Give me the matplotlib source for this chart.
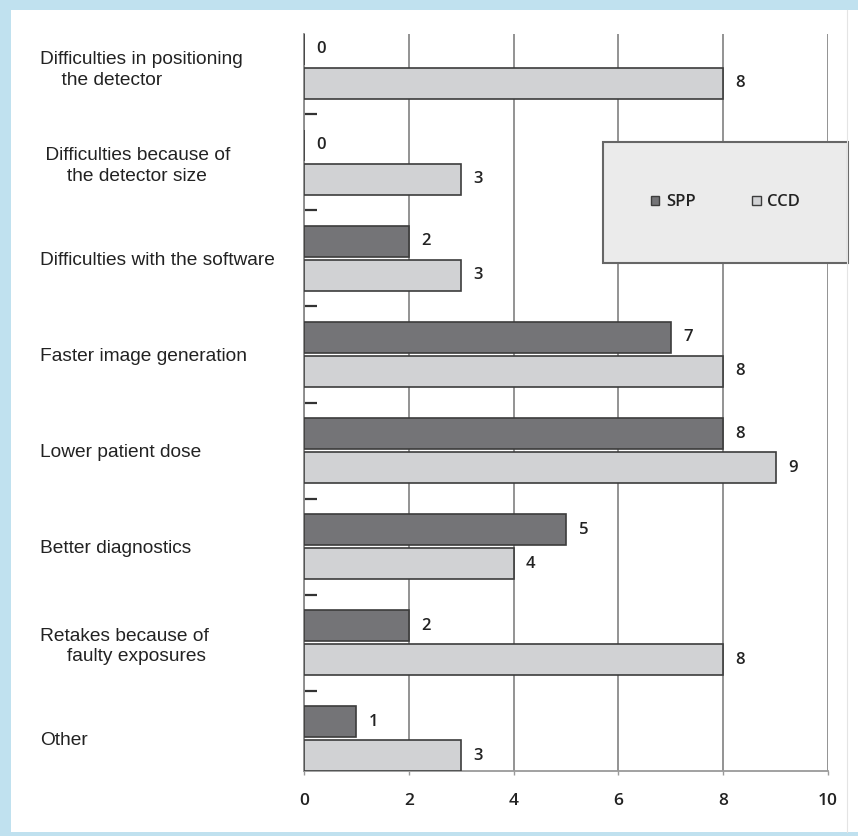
import numpy as np
import matplotlib.pyplot as plt
from matplotlib.patches import Rectangle, Patch

# survey answers per topic, two detector systems
categories = ["Difficulties in positioning\n    the detector",
              " Difficulties because of\n     the detector size",
              "Difficulties with the software",
              "Faster image generation",
              "Lower patient dose",
              "Better diagnostics",
              "Retakes because of\n     faulty exposures",
              "Other"]
spp = [0, 0, 2, 7, 8, 5, 2, 1]
ccd = [8, 3, 3, 8, 9, 4, 8, 3]
xticks = [0, 2, 4, 6, 8, 10]

spp_col = '#747477'
ccd_col = '#d1d2d4'
edge_col = '#3c3c3c'
txt_col = '#222222'
num_font = 'Open Sans'

fig = plt.figure(figsize=(8.58, 8.36), dpi=100)
fig.patch.set_facecolor('#c0e1ef')
# white panel inside the blue frame
fig.add_artist(Rectangle((11/858, 4/836), 847/858, 822/836, transform=fig.transFigure,
                         facecolor='white', edgecolor='none', zorder=0))
fig.add_artist(plt.Line2D([847/858, 847/858], [4/836, 826/836], transform=fig.transFigure,
                          color='#e4e4e4', lw=0.8))

ax = fig.add_axes([304/858, 65/836, 524/858, 737/836])
ax.set_facecolor('white')

y = np.arange(len(categories))
off = 0.177
h = 0.32
b1 = ax.barh(y - off, spp, height=h, color=spp_col, edgecolor=edge_col, lw=1.2, zorder=3)
b2 = ax.barh(y + off, ccd, height=h, color=ccd_col, edgecolor=edge_col, lw=1.2, zorder=3)
for bars in (b1, b2):
    ax.bar_label(bars, padding=9, fontsize=12, family=num_font, fontweight='semibold',
                 color=txt_col)

ax.set_xlim(0, 10)
ax.set_ylim(len(categories) - 1 + 0.337, -0.337)
ax.set_xticks(xticks)
ax.set_xticklabels([str(v) for v in xticks], fontsize=12.5, family=num_font,
                   fontweight='semibold', color=txt_col)
ax.tick_params(axis='x', direction='out', length=3, width=1, color='#999999', pad=13)
ax.grid(axis='x', color='#8a8a8a', lw=1.3, zorder=0)
ax.set_axisbelow(True)

ax.set_yticks(y)
ax.set_yticklabels(categories, fontsize=13.8, family='Liberation Sans', color=txt_col,
                   ha='left', linespacing=1.25)
ax.tick_params(axis='y', which='major', length=0, pad=190)
ax.set_yticks(y[:-1] + 0.5, minor=True)
ax.tick_params(axis='y', which='minor', direction='in', length=9, width=1.6, color='#333333')

for s in ('top', 'right'):
    ax.spines[s].set_visible(False)
ax.spines['left'].set_color('#8a8a8a')
ax.spines['left'].set_linewidth(1.3)
ax.spines['bottom'].set_color('#9a9a9a')
ax.spines['bottom'].set_linewidth(1.3)

# legend panel
x0, x1 = (603 - 304) / 524, (848 - 304) / 524
y0, y1 = (771 - 263) / 737, (771 - 142) / 737
ax.add_patch(Rectangle((x0, y0), x1 - x0, y1 - y0, transform=ax.transAxes, clip_on=False,
                       facecolor='#ebebeb', edgecolor='#666666', lw=1.5, zorder=5))
handles = [Patch(facecolor=spp_col, edgecolor=edge_col, lw=1.0, label='SPP'),
           Patch(facecolor=ccd_col, edgecolor=edge_col, lw=1.0, label='CCD')]
leg = ax.legend(handles=handles, loc='center', bbox_to_anchor=((x0 + x1) / 2, (y0 + y1) / 2),
                ncol=2, frameon=False, handlelength=0.5, handleheight=0.5, handletextpad=0.4,
                columnspacing=3.4, prop={'family': num_font, 'size': 12, 'weight': 'semibold'})
leg.set_zorder(6)
for t in leg.get_texts():
    t.set_color(txt_col)

fig.savefig('out.png', dpi=100, facecolor=fig.get_facecolor())
